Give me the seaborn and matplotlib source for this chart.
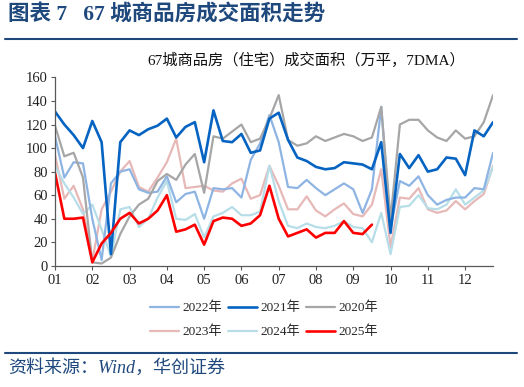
import numpy as np
import pandas as pd
import matplotlib
matplotlib.use('Agg')
import matplotlib.pyplot as plt
import seaborn as sns
from matplotlib.lines import Line2D

# weekly samples, position in months since 01-01
months = np.arange(48) / 4
month_labels = ['01', '02', '03', '04', '05', '06', '07', '08', '09', '10', '11', '12']

s2020 = [119, 93, 96, 75, 3, 2, 7, 27, 42, 52, 57, 72,
         78, 73, 86, 95, 62, 110, 108, 114, 120, 105, 108, 125,
         145, 107, 102, 104, 110, 106, 109, 112, 110, 106, 109, 135,
         40, 120, 124, 124, 115, 109, 106, 115, 108, 110, 122, 145]
s2021 = [131, 120, 111, 100, 123, 105, 10, 105, 115, 111, 116, 119,
         125, 109, 118, 122, 88, 132, 106, 105, 112, 96, 98, 125,
         130, 107, 92, 89, 84, 82, 83, 88, 87, 86, 82, 105,
         28, 95, 83, 94, 80, 82, 92, 91, 77, 115, 110, 122]
s2022 = [110, 75, 88, 87, 40, 5, 70, 80, 82, 65, 62, 63,
         76, 54, 61, 63, 40, 66, 65, 66, 58, 90, 104, 128,
         105, 67, 66, 73, 66, 60, 65, 70, 65, 45, 65, 135,
         32, 72, 68, 76, 60, 52, 56, 58, 58, 66, 65, 96]
s2023 = [94, 57, 68, 48, 4, 48, 63, 80, 89, 67, 63, 75,
         88, 108, 66, 67, 68, 64, 63, 70, 74, 57, 60, 85,
         68, 48, 48, 59, 47, 42, 48, 53, 44, 42, 52, 82,
         16, 58, 57, 66, 48, 45, 47, 55, 48, 55, 61, 85]
s2024 = [85, 70, 58, 44, 52, 31, 8, 48, 50, 33, 40, 58,
         72, 40, 39, 44, 24, 42, 45, 50, 43, 43, 46, 85,
         55, 34, 32, 36, 33, 32, 34, 38, 33, 32, 20, 45,
         10, 50, 51, 60, 49, 48, 52, 65, 52, 58, 64, 84]
s2025 = [79, 40, 40, 41, 3, 19, 28, 40, 45, 36, 40, 47,
         60, 29, 31, 35, 18, 38, 41, 40, 34, 36, 43, 68,
         40, 25, 28, 31, 24, 28, 28, 38, 28, 27, 35]

sns.set_theme(style='ticks')
plt.rcParams['font.family'] = ['Liberation Serif', 'Noto Sans CJK SC']
plt.rcParams['axes.unicode_minus'] = False

navy = '#1F497D'
fig = plt.figure(figsize=(5.24, 3.87), dpi=100)
ax = fig.add_axes([0.105, 0.313, 0.836, 0.487])

# draw order: light years first, 2021 and 2025 on top
series = [
    ('2023年', s2023, '#E6B9B8', 1.6),
    ('2024年', s2024, '#B7DEE8', 1.6),
    ('2022年', s2022, '#8EB4E3', 1.6),
    ('2020年', s2020, '#A6A6A6', 1.6),
    ('2021年', s2021, '#0563C1', 1.9),
    ('2025年', s2025, '#FF0000', 1.9),
]
for label, vals, color, lw in series:
    sns.lineplot(x=months[:len(vals)], y=vals, color=color, linewidth=lw,
                 label=label, ax=ax)

ax.set_xlim(0, 11.75)
ax.set_ylim(0, 160)
ax.set_yticks(range(0, 161, 20))
ax.set_xticks(range(12))
ax.set_xticklabels(month_labels)
ax.set_xlabel('')
ax.set_ylabel('')
for side in ['top', 'right']:
    ax.spines[side].set_visible(False)
for side in ['left', 'bottom']:
    ax.spines[side].set_color('#595959')
    ax.spines[side].set_linewidth(0.9)
ax.tick_params(axis='both', direction='out', length=3, width=0.8,
               color='#595959', labelsize=10.5, labelcolor='#222222')
ax.tick_params(axis='y', pad=2)
ax.tick_params(axis='x', pad=3)

# legend: 2 rows x 3 cols
handles, labels = ax.get_legend_handles_labels()
lookup = dict(zip(labels, handles))
order = ['2022年', '2023年', '2021年', '2024年', '2020年', '2025年']
ax.legend([lookup[k] for k in order], order, ncol=3, loc='center',
          bbox_to_anchor=(264 / 524, 1 - 320 / 387), bbox_transform=fig.transFigure,
          frameon=False, fontsize=9.5, handlelength=2.2, handletextpad=0.25,
          columnspacing=0.45, labelspacing=0.85)

# header, title and source
fig.text(8 / 524, 1 - 15 / 387, '图表 7   67 城商品房成交面积走势', fontsize=15.5,
         fontweight='bold', color=navy, ha='left', va='center')
fig.add_artist(Line2D([5 / 524, 517 / 524], [1 - 38.5 / 387] * 2, color=navy, lw=1.5))
fig.text(306 / 524, 1 - 60 / 387, '67城商品房（住宅）成交面积（万平，7DMA）',
         fontsize=11, color='#111111', ha='center', va='center')
fig.add_artist(Line2D([5 / 524, 517 / 524], [1 - 353 / 387] * 2, color=navy, lw=1.5))
fig.text(8 / 524, 1 - 368 / 387, '资料来源：Wind，华创证券', fontsize=13,
         style='italic', color=navy, ha='left', va='center')

fig.savefig('out.png', dpi=100)
